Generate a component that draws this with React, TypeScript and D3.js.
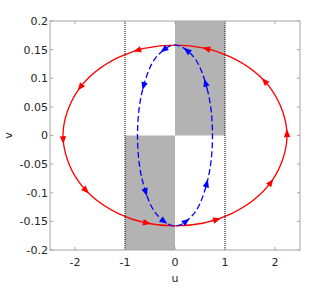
import React, { useRef, useEffect } from "react";
import * as d3 from "d3";

// outer ellipse (red), counterclockwise
const redU = [2.24, 1.94, 1.12, 0, -1.12, -1.94, -2.24, -1.94, -1.12, 0, 1.12, 1.94];
const redV = [0, 0.079, 0.137, 0.158, 0.137, 0.079, 0, -0.079, -0.137, -0.158, -0.137, -0.079];
// inner ellipse (blue dashed)
const blueU = [0.75, 0.65, 0.375, 0, -0.375, -0.65, -0.75, -0.65, -0.375, 0, 0.375, 0.65];
const blueV = [0, 0.079, 0.137, 0.158, 0.137, 0.079, 0, -0.079, -0.137, -0.158, -0.137, -0.079];

// arrow locations
const redArrowU = [2.24, 1.76, 0.64, -0.78, -1.92, -2.24, -1.76, -0.56, 0.84, 1.92];
const redArrowV = [0.004, 0.093, 0.156, 0.155, 0.085, -0.008, -0.095, -0.153, -0.146, -0.081];
const blueArrowU = [0.62, 0.24, -0.26, -0.62, -0.56, -0.22, 0.24, 0.62];
const blueArrowV = [0.093, 0.149, 0.153, 0.086, -0.099, -0.151, -0.151, -0.083];

// shaded boxes [u0, u1, v0, v1]
const shades = [
  [0, 1, 0, 0.2],
  [-1, 0, -0.2, 0],
];
const dottedU = [-1, 1];

const xTicks = [-2, -1, 0, 1, 2];
const yTicks = [0.2, 0.15, 0.1, 0.05, 0, -0.05, -0.1, -0.15, -0.2];

const W = 332;
const H = 288;
const left = 50, right = 300, top = 21, bottom = 250;

const App = () => {
  const svgRef = useRef<SVGSVGElement>(null);

  useEffect(() => {
    const svg = d3.select(svgRef.current);
    svg.selectAll("*").remove();

    const x = d3.scaleLinear().domain([-2.5, 2.5]).range([left, right]);
    const y = d3.scaleLinear().domain([-0.2, 0.2]).range([bottom, top]);

    // shading
    svg
      .selectAll("rect.shade")
      .data(shades)
      .enter()
      .append("rect")
      .attr("x", (d) => x(d[0]))
      .attr("width", (d) => x(d[1]) - x(d[0]))
      .attr("y", (d) => y(d[3]))
      .attr("height", (d) => y(d[2]) - y(d[3]))
      .attr("fill", "#b3b3b3");

    // dotted verticals
    svg
      .selectAll("line.dot")
      .data(dottedU)
      .enter()
      .append("line")
      .attr("x1", (d) => x(d))
      .attr("x2", (d) => x(d))
      .attr("y1", top)
      .attr("y2", bottom)
      .attr("stroke", "#000")
      .attr("stroke-width", 1)
      .attr("stroke-dasharray", "1,1");

    const line = d3
      .line<[number, number]>()
      .x((d) => x(d[0]))
      .y((d) => y(d[1]))
      .curve(d3.curveCatmullRomClosed);

    const drawCurve = (
      us: number[],
      vs: number[],
      au: number[],
      av: number[],
      color: string,
      dash: string | null
    ) => {
      const pts = us.map((u, i) => [u, vs[i]] as [number, number]);
      const path = svg
        .append("path")
        .attr("d", line(pts))
        .attr("fill", "none")
        .attr("stroke", color)
        .attr("stroke-width", 1.3);
      if (dash) path.attr("stroke-dasharray", dash);

      const node = path.node() as SVGPathElement;
      const total = node.getTotalLength();
      const samples = d3.range(0, total, 0.5).map((l) => {
        const p = node.getPointAtLength(l);
        return { l, x: p.x, y: p.y };
      });

      au.forEach((u, i) => {
        const px = x(u);
        const py = y(av[i]);
        const best = d3.least(samples, (s) => (s.x - px) ** 2 + (s.y - py) ** 2)!;
        const p0 = node.getPointAtLength(Math.max(0, best.l - 1));
        const p1 = node.getPointAtLength(Math.min(total, best.l + 1));
        const ang = (Math.atan2(p1.y - p0.y, p1.x - p0.x) * 180) / Math.PI;
        svg
          .append("path")
          .attr("d", "M4,0 L-4,-3.2 L-4,3.2 Z")
          .attr("fill", color)
          .attr("transform", `translate(${best.x},${best.y}) rotate(${ang})`);
      });
    };

    drawCurve(redU, redV, redArrowU, redArrowV, "#ff0000", null);
    drawCurve(blueU, blueV, blueArrowU, blueArrowV, "#0000ff", "6,3");

    // axes box
    const axisColor = "#a6a6a6";
    svg
      .append("rect")
      .attr("x", left)
      .attr("y", top)
      .attr("width", right - left)
      .attr("height", bottom - top)
      .attr("fill", "none")
      .attr("stroke", axisColor)
      .attr("stroke-width", 1);

    const tl = 3;
    xTicks.forEach((t) => {
      svg.append("line").attr("x1", x(t)).attr("x2", x(t)).attr("y1", bottom).attr("y2", bottom - tl).attr("stroke", axisColor);
      svg.append("line").attr("x1", x(t)).attr("x2", x(t)).attr("y1", top).attr("y2", top + tl).attr("stroke", axisColor);
    });
    yTicks.forEach((t) => {
      svg.append("line").attr("x1", left).attr("x2", left + tl).attr("y1", y(t)).attr("y2", y(t)).attr("stroke", axisColor);
      svg.append("line").attr("x1", right).attr("x2", right - tl).attr("y1", y(t)).attr("y2", y(t)).attr("stroke", axisColor);
    });

    const font = "DejaVu Sans";
    svg
      .selectAll("text.xt")
      .data(xTicks)
      .enter()
      .append("text")
      .attr("x", (d) => x(d))
      .attr("y", 266)
      .attr("text-anchor", "middle")
      .attr("font-family", font)
      .attr("font-size", 11)
      .attr("fill", "#262626")
      .text((d) => String(d));

    svg
      .selectAll("text.yt")
      .data(yTicks)
      .enter()
      .append("text")
      .attr("x", 48)
      .attr("y", (d) => y(d))
      .attr("dy", "0.36em")
      .attr("text-anchor", "end")
      .attr("font-family", font)
      .attr("font-size", 11)
      .attr("fill", "#262626")
      .text((d) => String(d));

    svg
      .append("text")
      .attr("x", (left + right) / 2)
      .attr("y", 282)
      .attr("text-anchor", "middle")
      .attr("font-family", font)
      .attr("font-size", 11)
      .attr("fill", "#262626")
      .text("u");

    svg
      .append("text")
      .attr("transform", `translate(12,${(top + bottom) / 2}) rotate(-90)`)
      .attr("text-anchor", "middle")
      .attr("font-family", font)
      .attr("font-size", 11)
      .attr("fill", "#262626")
      .text("v");
  }, []);

  return (
    <svg
      ref={svgRef}
      width={W}
      height={H}
      style={{ position: "absolute", left: 0, top: 0, background: "#fff" }}
    ></svg>
  );
};

export default App;
